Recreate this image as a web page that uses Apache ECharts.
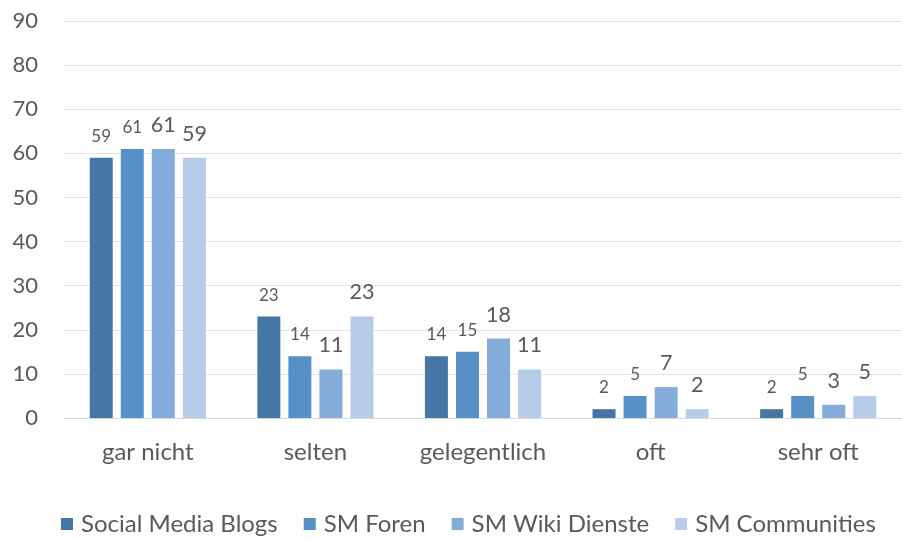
<!DOCTYPE html>
<html>
<head>
<meta charset="utf-8">
<script src="https://cdn.jsdelivr.net/npm/echarts@6/dist/echarts.min.js"></script>
<style>
  html, body { margin: 0; padding: 0; background: #fff; }
  #chart { width: 902px; height: 539px; }
</style>
</head>
<body>
<div id="chart"></div>
<script>
const categories = ["gar nicht", "selten", "gelegentlich", "oft", "sehr oft"]
const seriesNames = ["Social Media Blogs", "SM Foren", "SM Wiki Dienste", "SM Communities"]
const blogs = [59, 23, 14, 2, 2]
const foren = [61, 14, 15, 5, 5]
const wiki = [61, 11, 18, 7, 3]
const communities = [59, 23, 11, 2, 5]
const yTicks = [0, 10, 20, 30, 40, 50, 60, 70, 80, 90]

const colors = ["#4676a4", "#5591c7", "#84acdb", "#b7cce8"]
// die ersten beiden Reihen haben kleinere Beschriftungen
const labelSizes = [17, 17, 21.5, 21.5]
const fontFamily = "Lato, 'Open Sans', sans-serif"

const chart = echarts.init(document.getElementById("chart"))

const makeSeries = (name, data, i) => ({
  name,
  type: "bar",
  data,
  barWidth: 23,
  barGap: "35%",
  itemStyle: { color: colors[i] },
  label: {
    show: true,
    position: "top",
    distance: 13,
    color: "#595959",
    fontSize: labelSizes[i],
    fontFamily
  }
})

chart.setOption({
  animation: false,
  backgroundColor: "#fff",
  color: colors,
  grid: { left: 64, top: 21, width: 850, height: 397 },
  legend: {
    data: seriesNames,
    top: 512,
    left: 61,
    padding: 0,
    itemWidth: 12,
    itemHeight: 12,
    itemGap: 26,
    icon: "rect",
    textStyle: { fontSize: 24, color: "#595959", fontFamily, padding: [0, 0, 0, 3] }
  },
  xAxis: {
    type: "category",
    data: categories,
    axisLine: { lineStyle: { color: "#d9d9d9" } },
    axisTick: { show: false },
    axisLabel: { interval: 0, fontSize: 24, color: "#595959", fontFamily, margin: 22 }
  },
  yAxis: {
    type: "value",
    min: yTicks[0],
    max: yTicks[yTicks.length - 1],
    interval: 10,
    axisLine: { show: false },
    axisTick: { show: false },
    splitLine: { lineStyle: { color: "#e3e3e3", width: 1 } },
    axisLabel: { fontSize: 22, color: "#595959", fontFamily, margin: 26 }
  },
  series: [
    makeSeries(seriesNames[0], blogs, 0),
    makeSeries(seriesNames[1], foren, 1),
    makeSeries(seriesNames[2], wiki, 2),
    makeSeries(seriesNames[3], communities, 3)
  ]
})
</script>
</body>
</html>
